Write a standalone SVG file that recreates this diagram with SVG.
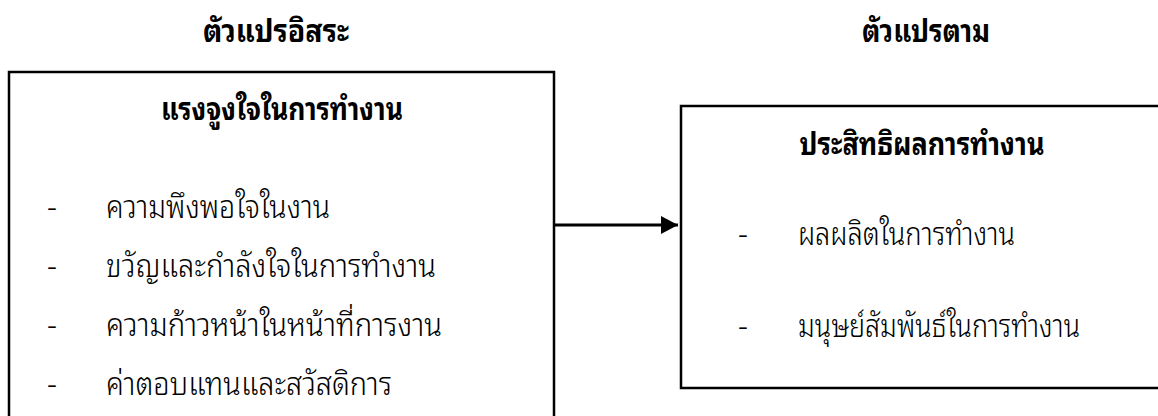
<svg xmlns="http://www.w3.org/2000/svg" width="1158" height="416" viewBox="0 0 1158 416">
<style>
text{font-family:"Noto Sans Thai Looped","Noto Serif Thai","Noto Sans Thai","Noto Sans",sans-serif;fill:#000}
.b{font-weight:bold;font-size:31px}
.t{font-weight:300;font-size:31px}
.box{fill:#fff;stroke:#000;stroke-width:2.5}
</style>
<defs>
<marker id="ah" markerWidth="18" markerHeight="18" refX="17" refY="9" orient="auto" markerUnits="userSpaceOnUse"><path d="M0,0 L17,9 L0,18 Z" fill="#000"/></marker>
</defs>
<rect width="1158" height="416" fill="#fff"/>
<text class="b" x="276" y="42" text-anchor="middle" textLength="146" lengthAdjust="spacingAndGlyphs">ตัวแปรอิสระ</text>
<text class="b" x="926" y="42" text-anchor="middle" textLength="128" lengthAdjust="spacingAndGlyphs">ตัวแปรตาม</text>
<g id="independent">
<rect class="box" x="9" y="72" width="545" height="360"/>
<text class="b" x="282" y="120" text-anchor="middle" textLength="242" lengthAdjust="spacingAndGlyphs">แรงจูงใจในการทำงาน</text>
<text class="t" x="52" y="218" text-anchor="middle">-</text>
<text class="t" x="106" y="218" textLength="224" lengthAdjust="spacingAndGlyphs">ความพึงพอใจในงาน</text>
<text class="t" x="52" y="277" text-anchor="middle">-</text>
<text class="t" x="106" y="277" textLength="330" lengthAdjust="spacingAndGlyphs">ขวัญและกำลังใจในการทำงาน</text>
<text class="t" x="52" y="336" text-anchor="middle">-</text>
<text class="t" x="106" y="336" textLength="336" lengthAdjust="spacingAndGlyphs">ความก้าวหน้าในหน้าที่การงาน</text>
<text class="t" x="52" y="395" text-anchor="middle">-</text>
<text class="t" x="106" y="395" textLength="286" lengthAdjust="spacingAndGlyphs">ค่าตอบแทนและสวัสดิการ</text>
</g>
<g id="dependent">
<rect class="box" x="681" y="106" width="500" height="282"/>
<text class="b" x="922" y="155" text-anchor="middle" textLength="245" lengthAdjust="spacingAndGlyphs">ประสิทธิผลการทำงาน</text>
<text class="t" x="743" y="245" text-anchor="middle">-</text>
<text class="t" x="798" y="245" textLength="217" lengthAdjust="spacingAndGlyphs">ผลผลิตในการทำงาน</text>
<text class="t" x="743" y="337" text-anchor="middle">-</text>
<text class="t" x="798" y="337" textLength="282" lengthAdjust="spacingAndGlyphs">มนุษย์สัมพันธ์ในการทำงาน</text>
</g>
<g id="connectors">
<line x1="554" y1="225" x2="678" y2="225" stroke="#000" stroke-width="3" marker-end="url(#ah)"/>
</g>
</svg>
